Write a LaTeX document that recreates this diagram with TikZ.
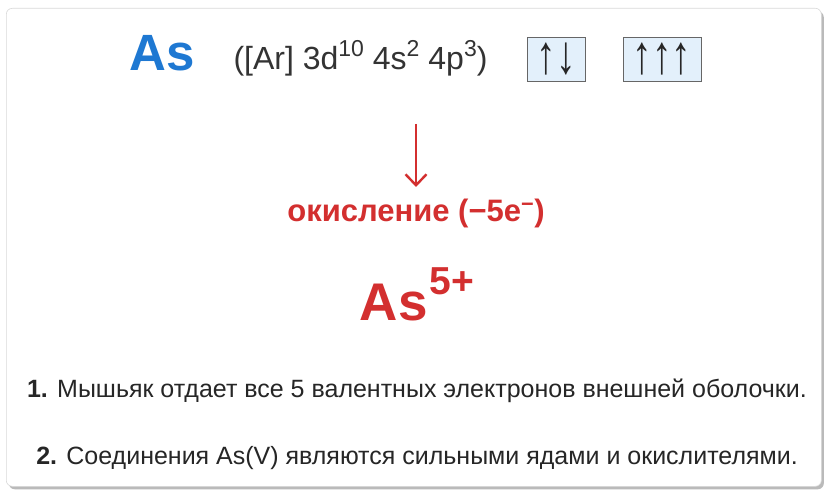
\documentclass[tikz,border=0pt]{standalone}
\usepackage{fontspec}
\setmainfont{Liberation Sans}
\newfontfamily\arrowfont{Liberation Sans}
\usetikzlibrary{shadows,arrows.meta}
\definecolor{asblue}{HTML}{1E78D2}
\definecolor{asred}{HTML}{D32F2F}
\definecolor{txtgray}{HTML}{333333}
\definecolor{boxfill}{HTML}{E3F0FB}
\definecolor{boxline}{HTML}{666666}
\newcommand{\supnum}[1]{\raisebox{0.42em}{\fontsize{23}{23}\selectfont #1}}
\newcommand{\tallarr}[1]{\scalebox{1.15}[1.6]{#1}}
\tikzset{
  card/.style={draw=black!15, fill=white, rounded corners=6pt, line width=0.6pt,
    drop shadow={shadow xshift=2.5pt, shadow yshift=-3pt, opacity=0.45, fill=black!60}},
  orbital/.style={draw=boxline, fill=boxfill, line width=0.6pt, inner sep=0pt, font=\arrowfont\fontsize{34}{34}\selectfont, text=black!85},
  bodytext/.style={font=\fontsize{25}{28}\selectfont, text=black!85, anchor=base}
}
\begin{document}
\begin{tikzpicture}[x=1pt,y=-1pt]
\useasboundingbox (0,0) rectangle (836,497);
\node[card, minimum width=815pt, minimum height=478pt, anchor=north west] (cardbox) at (6,8) {};
\node[font=\bfseries\fontsize{51}{51}\selectfont, text=asblue, anchor=base] (as) at (162,71) {As};
\node[font=\fontsize{32}{32}\selectfont, text=txtgray, anchor=base west] (conf) at (230,70) {([Ar] 3d\supnum{10} 4s\supnum{2} 4p\supnum{3})};
\node[orbital, minimum width=58pt, minimum height=44pt] (s4) at (556,59) {\tallarr{↑↓}};
\node[orbital, minimum width=78pt, minimum height=44pt] (p4) at (662,59) {\tallarr{↑↑↑}};
\coordinate (arrtop) at (416,124);
\coordinate (arrbot) at (416,187);
\draw[asred, line width=2.4pt, -{Straight Barb[length=11pt,width=21pt,line width=2.4pt]}] (arrtop) -- (arrbot);
\node[font=\bfseries\fontsize{31}{31}\selectfont, text=asred] (ox) at (416,213) {окисление (−5e\textsuperscript{−})};
\node[font=\bfseries\fontsize{53}{53}\selectfont, text=asred, anchor=base] (ion) at (417,321) {As\kern2pt\raisebox{0.5em}{\fontsize{39}{39}\selectfont 5+}};
\node[bodytext] (l1) at (417,397) {\textbf{1.} Мышьяк отдает все 5 валентных электронов внешней оболочки.};
\node[bodytext] (l2) at (417,464) {\textbf{2.} Соединения As(V) являются сильными ядами и окислителями.};
\end{tikzpicture}
\end{document}
